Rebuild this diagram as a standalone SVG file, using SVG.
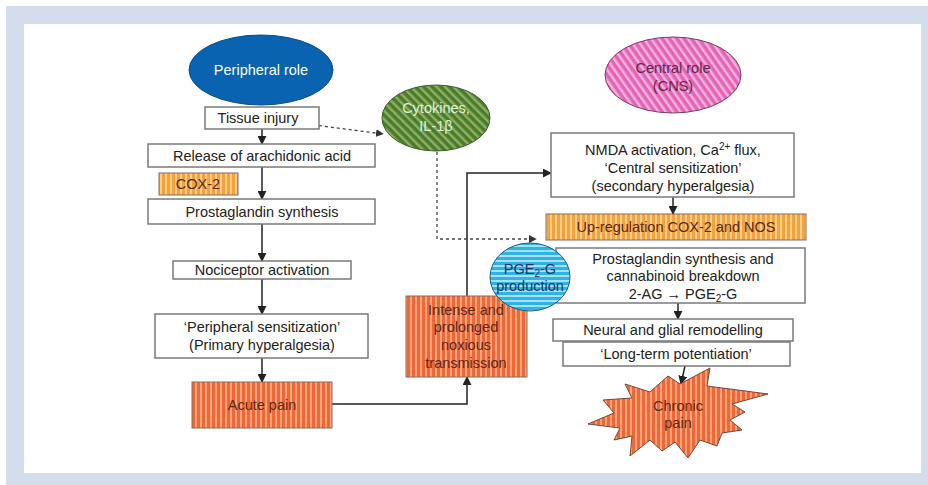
<svg xmlns="http://www.w3.org/2000/svg" width="928" height="485" viewBox="0 0 928 485">
<defs>
<pattern id="pRed" patternUnits="userSpaceOnUse" width="5" height="10"><rect width="5" height="10" fill="#f06737"/><rect width="2" height="10" fill="#f9a47a"/></pattern>
<pattern id="pOrg" patternUnits="userSpaceOnUse" width="5" height="10"><rect width="5" height="10" fill="#f4a23f"/><rect width="2" height="10" fill="#fbcd85"/></pattern>
<pattern id="pGreen" patternUnits="userSpaceOnUse" width="6" height="6" patternTransform="rotate(-45)"><rect width="6" height="6" fill="#4b7a2c"/><rect width="2.5" height="6" fill="#8cb062"/></pattern>
<pattern id="pPink" patternUnits="userSpaceOnUse" width="6" height="6" patternTransform="rotate(-35)"><rect width="6" height="6" fill="#e264b6"/><rect width="2.5" height="6" fill="#f6b0dc"/></pattern>
<pattern id="pBlue" patternUnits="userSpaceOnUse" width="10" height="5"><rect width="10" height="5" fill="#2db3e6"/><rect width="10" height="2" fill="#a8e0f5"/></pattern>
<marker id="ah" viewBox="0 0 10 10" refX="9" refY="5" markerWidth="6" markerHeight="6" orient="auto"><path d="M0,0 L10,5 L0,10 z" fill="#222"/></marker>
<marker id="ahd" viewBox="0 0 10 10" refX="9" refY="5" markerWidth="6" markerHeight="6" orient="auto"><path d="M0,0 L10,5 L0,10 z" fill="#333"/></marker>
</defs>
<style>
text{font-family:"Liberation Sans",Arial,sans-serif;font-size:14.5px;text-anchor:middle;fill:#222}
.box{fill:#fff;stroke:#7a7a7a;stroke-width:1.5}
.sbox{stroke:#8a6a5a;stroke-width:1}
.con{fill:none;stroke:#222;stroke-width:1.5}
.dash{fill:none;stroke:#444;stroke-width:1.3;stroke-dasharray:3,3}
.brown{fill:#5a2a1a}
</style>
<rect x="0" y="0" width="928" height="485" fill="#fff"/>
<rect x="6" y="6" width="922" height="479" fill="#d3ddec"/>
<rect x="24" y="24" width="897" height="449" fill="#fff"/>

<g id="connectors">
<line class="con" x1="262" y1="129" x2="262" y2="144" marker-end="url(#ah)"/>
<line class="con" x1="262" y1="167" x2="262" y2="199" marker-end="url(#ah)"/>
<line class="con" x1="262" y1="224" x2="262" y2="261" marker-end="url(#ah)"/>
<line class="con" x1="262" y1="279" x2="262" y2="314" marker-end="url(#ah)"/>
<line class="con" x1="262" y1="358" x2="262" y2="382" marker-end="url(#ah)"/>
<path class="con" d="M332,404 H467 V377" marker-end="url(#ah)"/>
<path class="con" d="M467,296 V173 H551" marker-end="url(#ah)"/>
<line class="con" x1="673" y1="197" x2="673" y2="214" marker-end="url(#ah)"/>
<line class="con" x1="678" y1="303" x2="678" y2="319" marker-end="url(#ah)"/>
<line class="con" x1="685" y1="366" x2="681" y2="384" marker-end="url(#ah)"/>
<path class="dash" d="M307,124 L383,134" marker-end="url(#ahd)"/>
<path class="dash" d="M437,152 V239 H536" marker-end="url(#ahd)"/>
</g>

<g id="peripheral-role">
<ellipse cx="261" cy="70" rx="72" ry="35" fill="#0a63b0" stroke="#0b4d86" stroke-width="1"/>
<text x="261" y="75" style="fill:#fff">Peripheral role</text>
</g>
<g id="tissue-injury">
<rect class="box" x="205" y="107" width="114" height="22"/>
<text x="258" y="123">Tissue injury</text>
</g>
<g id="release">
<rect class="box" x="148" y="144" width="227" height="23"/>
<text x="262" y="161">Release of arachidonic acid</text>
</g>
<g id="cox2">
<rect class="sbox" x="159" y="173" width="79" height="22" fill="url(#pOrg)"/>
<text x="198" y="189" class="brown">COX-2</text>
</g>
<g id="pg-synthesis">
<rect class="box" x="148" y="199" width="227" height="25"/>
<text x="262" y="217">Prostaglandin synthesis</text>
</g>
<g id="nociceptor">
<rect class="box" x="173" y="261" width="178" height="18"/>
<text x="262" y="275">Nociceptor activation</text>
</g>
<g id="peripheral-sensitization">
<rect class="box" x="155" y="314" width="213" height="44"/>
<text x="262" y="332">‘Peripheral sensitization’</text>
<text x="262" y="350">(Primary hyperalgesia)</text>
</g>
<g id="acute-pain">
<rect class="sbox" x="192" y="382" width="140" height="46" fill="url(#pRed)"/>
<text x="262" y="410" class="brown">Acute pain</text>
</g>
<g id="cytokines">
<ellipse cx="436" cy="118" rx="54" ry="33" fill="url(#pGreen)" stroke="#3e5a2a" stroke-width="1"/>
<text x="436" y="113" style="fill:#dff0d2">Cytokines,</text>
<text x="436" y="131" style="fill:#dff0d2">IL-1β</text>
</g>
<g id="intense">
<rect class="sbox" x="406" y="296" width="121" height="81" fill="url(#pRed)"/>
<text x="466" y="315" class="brown">Intense and</text>
<text x="466" y="332" class="brown">prolonged</text>
<text x="466" y="350" class="brown">noxious</text>
<text x="466" y="368" class="brown">transmission</text>
</g>
<g id="central-role">
<ellipse cx="673" cy="75" rx="68" ry="38" fill="url(#pPink)" stroke="#7a3a60" stroke-width="1"/>
<text x="673" y="73" style="fill:#5a2a4e">Central role</text>
<text x="673" y="91" style="fill:#5a2a4e">(CNS)</text>
</g>
<g id="nmda">
<rect class="box" x="551" y="133" width="243" height="64"/>
<text x="673" y="155">NMDA activation, Ca<tspan font-size="10" dy="-5">2+</tspan><tspan dy="5"> flux,</tspan></text>
<text x="673" y="173">‘Central sensitization’</text>
<text x="673" y="191">(secondary hyperalgesia)</text>
</g>
<g id="upregulation">
<rect class="sbox" x="546" y="214" width="260" height="26" fill="url(#pOrg)"/>
<text x="676" y="232" class="brown">Up-regulation COX-2 and NOS</text>
</g>
<g id="pg-cannabinoid">
<rect class="box" x="556" y="248" width="249" height="55"/>
<text x="683" y="264">Prostaglandin synthesis and</text>
<text x="683" y="281">cannabinoid breakdown</text>
<text x="683" y="299">2-AG → PGE<tspan font-size="10" dy="3">2</tspan><tspan dy="-3">-G</tspan></text>
</g>
<g id="pge2g">
<ellipse cx="530" cy="277" rx="40" ry="34" fill="url(#pBlue)" stroke="#1a5a8a" stroke-width="1"/>
<text x="530" y="274" style="fill:#1a3560">PGE<tspan font-size="10" dy="3">2</tspan><tspan dy="-3">-G</tspan></text>
<text x="530" y="291" style="fill:#1a3560">production</text>
</g>
<g id="neural">
<rect class="box" x="553" y="319" width="240" height="22"/>
<text x="673" y="335">Neural and glial remodelling</text>
</g>
<g id="ltp">
<rect class="box" x="563" y="342" width="227" height="24"/>
<text x="676" y="359">‘Long-term potentiation’</text>
</g>
<g id="chronic-pain">
<polygon points="625,384 650,392 668,376 680,384 710,368 707,386 768,394 732,404 745,412 730,420 742,430 722,433 717,446 700,440 688,458 675,442 662,451 650,440 630,456 632,436 614,440 620,428 588,424 614,413 603,400 632,398" fill="url(#pRed)" stroke="#6a4a3a" stroke-width="1"/>
<text x="678" y="411" class="brown">Chronic</text>
<text x="678" y="428" class="brown">pain</text>
</g>
</svg>
